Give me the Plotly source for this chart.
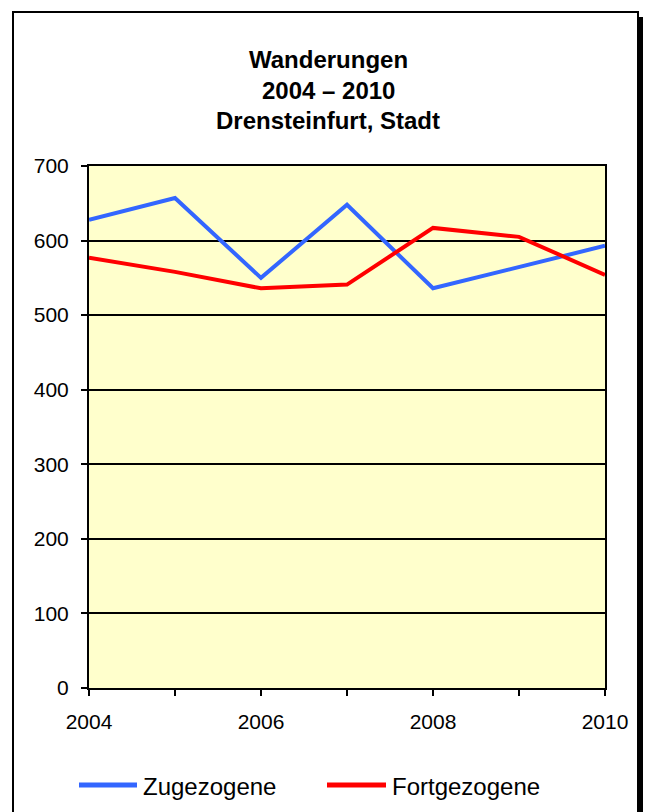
import plotly.graph_objects as go

years = [2004, 2005, 2006, 2007, 2008, 2009, 2010]
zugezogene = [628, 657, 550, 648, 536, 565, 593]
fortgezogene = [577, 558, 536, 541, 617, 605, 554]
series_names = ["Zugezogene", "Fortgezogene"]
series_colors = ["#3366FF", "#FF0000"]
title_lines = ["Wanderungen", "2004 – 2010", "Drensteinfurt, Stadt"]
y_ticks = [0, 100, 200, 300, 400, 500, 600, 700]
x_ticks = [2004, 2006, 2008, 2010]

W, H = 646, 812
L, R, T, B = 89, 605, 166, 688


def px(x):
    return (x - L) / (R - L)


def py(y):
    return (B - y) / (B - T)


FONT = "Liberation Sans, Arial, sans-serif"

fig = go.Figure()
for name, vals, col in zip(series_names, [zugezogene, fortgezogene], series_colors):
    fig.add_trace(go.Scatter(x=years, y=vals, mode="lines", name=name,
                             line=dict(color=col, width=4), showlegend=False,
                             hoverinfo="skip"))

shapes = [
    # outer frame shadow
    dict(type="rect", xref="paper", yref="paper", x0=px(637), x1=px(643),
         y0=py(840), y1=py(17), fillcolor="black", line=dict(width=0), layer="above"),
    # outer frame
    dict(type="rect", xref="paper", yref="paper", x0=px(13), x1=px(638),
         y0=py(840), y1=py(12), fillcolor="rgba(0,0,0,0)",
         line=dict(color="black", width=2), layer="above"),
]

annotations = []
for txt, yc in zip(title_lines, [59, 90, 121]):
    annotations.append(dict(text="<b>%s</b>" % txt, xref="paper", yref="paper",
                            x=px(328), y=py(yc), xanchor="center", yanchor="middle",
                            showarrow=False, font=dict(family=FONT, size=24, color="black")))

# legend
leg = [(79, 137, 141), (327, 386, 390)]
for (x0, x1, xt), name, col in zip(leg, series_names, series_colors):
    shapes.append(dict(type="line", xref="paper", yref="paper", x0=px(x0), x1=px(x1),
                       y0=py(785), y1=py(785), line=dict(color=col, width=5)))
    annotations.append(dict(text=name, xref="paper", yref="paper", x=px(xt), y=py(786),
                            xanchor="left", yanchor="middle", showarrow=False,
                            font=dict(family=FONT, size=24, color="black")))

fig.update_layout(
    width=W, height=H,
    margin=dict(l=L, r=W - R, t=T, b=H - B, pad=0),
    paper_bgcolor="white",
    plot_bgcolor="#FFFFCC",
    font=dict(family=FONT, size=21, color="black"),
    shapes=shapes,
    annotations=annotations,
    showlegend=False,
)
fig.update_xaxes(range=[2004, 2010], tickmode="array", tickvals=years,
                 ticktext=[str(y) if y in x_ticks else "" for y in years],
                 showgrid=False, zeroline=False, showline=True, linecolor="black",
                 linewidth=2, mirror=True, ticks="outside", ticklen=6, tickwidth=2,
                 tickcolor="black", ticklabelstandoff=8,
                 tickfont=dict(family=FONT, size=21, color="black"))
fig.update_yaxes(range=[0, 700], tickmode="array", tickvals=y_ticks,
                 showgrid=True, gridcolor="black", gridwidth=2, zeroline=False,
                 showline=True, linecolor="black", linewidth=2, mirror=True,
                 ticks="outside", ticklen=6, tickwidth=2, tickcolor="black",
                 ticklabelstandoff=8,
                 tickfont=dict(family=FONT, size=21, color="black"))

fig.write_html("out.html", config={"displayModeBar": False},
               post_script="document.body.style.margin='0';document.body.style.overflow='hidden';")
